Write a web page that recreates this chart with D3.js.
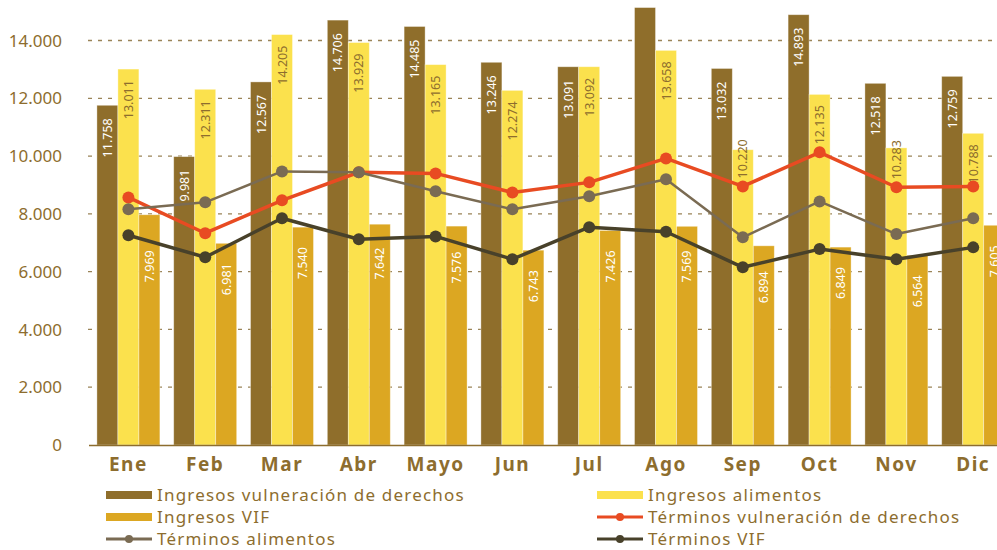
<!DOCTYPE html>
<html>
<head>
<meta charset="utf-8">
<script src="https://cdn.jsdelivr.net/npm/d3@7"></script>
<style>
  body { margin: 0; background: #fff; }
  svg { display: block; font-family: 'Noto Sans', sans-serif; }
</style>
</head>
<body>
<div id="chart"></div>
<script>
const months = ['Ene', 'Feb', 'Mar', 'Abr', 'Mayo', 'Jun', 'Jul', 'Ago', 'Sep', 'Oct', 'Nov', 'Dic'];
const ingresosVulneracion = [11758, 9981, 12567, 14706, 14485, 13246, 13091, 15140, 13032, 14893, 12518, 12759];
const ingresosAlimentos = [13011, 12311, 14205, 13929, 13165, 12274, 13092, 13658, 10220, 12135, 10283, 10788];
const ingresosVif = [7969, 6981, 7540, 7642, 7576, 6743, 7426, 7569, 6894, 6849, 6564, 7605];
const terminosVulneracion = [8570, 7330, 8470, 9440, 9400, 8740, 9090, 9920, 8950, 10130, 8920, 8950];
const terminosAlimentos = [8160, 8400, 9470, 9440, 8780, 8160, 8610, 9200, 7190, 8430, 7300, 7850];
const terminosVif = [7260, 6500, 7850, 7120, 7220, 6430, 7540, 7380, 6150, 6780, 6430, 6840];
const yTicks = [0, 2000, 4000, 6000, 8000, 10000, 12000, 14000];
// the August vulneración bar carries no label in the original
const unlabeled = ['Ago'];

const width = 997;
const height = 550;
const textColor = '#8d6d2e';

const locale = d3.formatLocale({ decimal: ',', thousands: '.', grouping: [3], currency: ['$', ''] });
const fmt = locale.format(',d');

// place: 'inside' keeps the label under the bar top, 'above' lets it rise over lines, 'below' drops it under lines
const barSeries = [
  { name: 'Ingresos vulneración de derechos', values: ingresosVulneracion, color: '#8f6e2b', label: '#ffffff', offset: 13, place: 'inside' },
  { name: 'Ingresos alimentos', values: ingresosAlimentos, color: '#fbe14d', label: '#8d6d2e', offset: 11, place: 'above' },
  { name: 'Ingresos VIF', values: ingresosVif, color: '#dca722', label: '#ffffff', offset: 20, place: 'below' },
];
const lineSeries = [
  { name: 'Términos vulneración de derechos', values: terminosVulneracion, color: '#e84b22', stroke: 3.5 },
  { name: 'Términos alimentos', values: terminosAlimentos, color: '#7a6b53', stroke: 2.5 },
  { name: 'Términos VIF', values: terminosVif, color: '#48412a', stroke: 3.5 },
];

const svg = d3.select('#chart').append('svg')
  .attr('width', width)
  .attr('height', height);

const x0 = d3.scaleBand()
  .domain(months)
  .range([90, 1011.6])
  .paddingInner(0.18)
  .paddingOuter(0.09);

const x1 = d3.scaleBand()
  .domain(barSeries.map(d => d.name))
  .range([0, x0.bandwidth()]);

const y = d3.scaleLinear()
  .domain([0, 14000])
  .range([445, 40.5]);

// gridlines
svg.append('g')
  .selectAll('line')
  .data(yTicks.filter(d => d > 0))
  .enter().append('line')
  .attr('x1', 88)
  .attr('x2', width)
  .attr('y1', d => y(d))
  .attr('y2', d => y(d))
  .attr('stroke', '#9a8458')
  .attr('stroke-width', 1.3)
  .attr('stroke-dasharray', '4,6');

// y tick labels
svg.append('g')
  .selectAll('text')
  .data(yTicks)
  .enter().append('text')
  .attr('x', 62)
  .attr('y', d => y(d))
  .attr('dy', '0.36em')
  .attr('text-anchor', 'end')
  .style('font-size', '17px')
  .style('fill', textColor)
  .text(d => (d === 0 ? '0' : fmt(d)));

// bars
const groups = svg.append('g')
  .selectAll('.month')
  .data(months)
  .enter().append('g')
  .attr('class', 'month')
  .attr('transform', d => `translate(${x0(d)},0)`);

groups.selectAll('rect')
  .data((m, i) => barSeries.map(s => ({ series: s, month: m, value: s.values[i] })))
  .enter().append('rect')
  .attr('x', d => x1(d.series.name))
  .attr('width', x1.bandwidth())
  .attr('y', d => y(d.value))
  .attr('height', d => y(0) - y(d.value))
  .attr('fill', d => d.series.color)
  .attr('stroke', 'rgba(255,255,255,0.45)')
  .attr('stroke-width', 0.8);

// x axis line
svg.append('line')
  .attr('x1', 89)
  .attr('x2', width)
  .attr('y1', y(0) + 0.5)
  .attr('y2', y(0) + 0.5)
  .attr('stroke', '#8d6d2e')
  .attr('stroke-width', 1.5);

// month labels
svg.append('g')
  .selectAll('text')
  .data(months)
  .enter().append('text')
  .attr('x', d => x0(d) + x0.bandwidth() / 2)
  .attr('y', 471)
  .attr('text-anchor', 'middle')
  .style('font-size', '19px')
  .style('font-weight', 'bold')
  .style('letter-spacing', '1.5px')
  .style('fill', textColor)
  .text(d => d);

// lines
const cx = m => x0(m) + x0.bandwidth() / 2;

lineSeries.forEach((s) => {
  const line = d3.line()
    .x((d, i) => cx(months[i]))
    .y(d => y(d));

  const g = svg.append('g');
  g.append('path')
    .datum(s.values)
    .attr('d', line)
    .attr('fill', 'none')
    .attr('stroke', s.color)
    .attr('stroke-width', s.stroke)
    .attr('stroke-linejoin', 'round');

  g.selectAll('circle')
    .data(s.values)
    .enter().append('circle')
    .attr('cx', (d, i) => cx(months[i]))
    .attr('cy', d => y(d))
    .attr('r', 6)
    .attr('fill', s.color);
});

// y of every line at a given x, between month centres
function linesAt(px) {
  const centers = months.map(cx);
  const i = d3.bisectRight(centers, px) - 1;
  if (i < 0 || i >= centers.length - 1) return [];
  const t = (px - centers[i]) / (centers[i + 1] - centers[i]);
  return lineSeries.map(s => y(s.values[i] + (s.values[i + 1] - s.values[i]) * t));
}

// bar value labels
groups.selectAll('.value')
  .data((m, i) => barSeries
    .map(s => ({ series: s, month: m, value: s.values[i] }))
    .filter(d => !(d.series === barSeries[0] && unlabeled.includes(d.month))))
  .enter().append('text')
  .attr('class', 'value')
  .attr('dy', '0.36em')
  .attr('text-anchor', 'end')
  .style('font-size', '12.5px')
  .style('fill', d => d.series.label)
  .text(d => fmt(d.value))
  .each(function (d) {
    const len = this.getComputedTextLength();
    const bx = x1(d.series.name) + x1.bandwidth() / 2;
    const top = y(d.value);
    const ys = linesAt(x0(d.month) + bx);
    let by = top + d.series.offset;
    if (ys.length && d.series.place === 'above') {
      by = Math.min(by, d3.min(ys) - 8 - len);
    } else if (ys.length && d.series.place === 'below') {
      by = Math.max(by, d3.max(ys) + 9);
    }
    d3.select(this).attr('transform', `translate(${bx},${by}) rotate(-90)`);
  });

// legend
const legendItems = [
  { item: barSeries[0], type: 'bar', col: 0, row: 0 },
  { item: barSeries[1], type: 'bar', col: 1, row: 0 },
  { item: barSeries[2], type: 'bar', col: 0, row: 1 },
  { item: lineSeries[0], type: 'line', col: 1, row: 1 },
  { item: lineSeries[1], type: 'line', col: 0, row: 2 },
  { item: lineSeries[2], type: 'line', col: 1, row: 2 },
];
const colX = [106, 597];

const legendG = svg.append('g')
  .selectAll('.legend')
  .data(legendItems)
  .enter().append('g')
  .attr('class', 'legend')
  .attr('transform', d => `translate(${colX[d.col]},${495 + d.row * 22})`);

legendG.filter(d => d.type === 'bar')
  .append('rect')
  .attr('x', 0)
  .attr('y', -4)
  .attr('width', 46)
  .attr('height', 8)
  .attr('fill', d => d.item.color);

legendG.filter(d => d.type === 'line')
  .append('line')
  .attr('x1', 0)
  .attr('x2', 46)
  .attr('stroke', d => d.item.color)
  .attr('stroke-width', 3);

legendG.filter(d => d.type === 'line')
  .append('circle')
  .attr('cx', 23)
  .attr('r', 4)
  .attr('fill', d => d.item.color);

legendG.append('text')
  .attr('x', 51)
  .attr('dy', '0.36em')
  .style('font-size', '17px')
  .style('letter-spacing', '1.2px')
  .style('fill', textColor)
  .text(d => d.item.name);
</script>
</body>
</html>
